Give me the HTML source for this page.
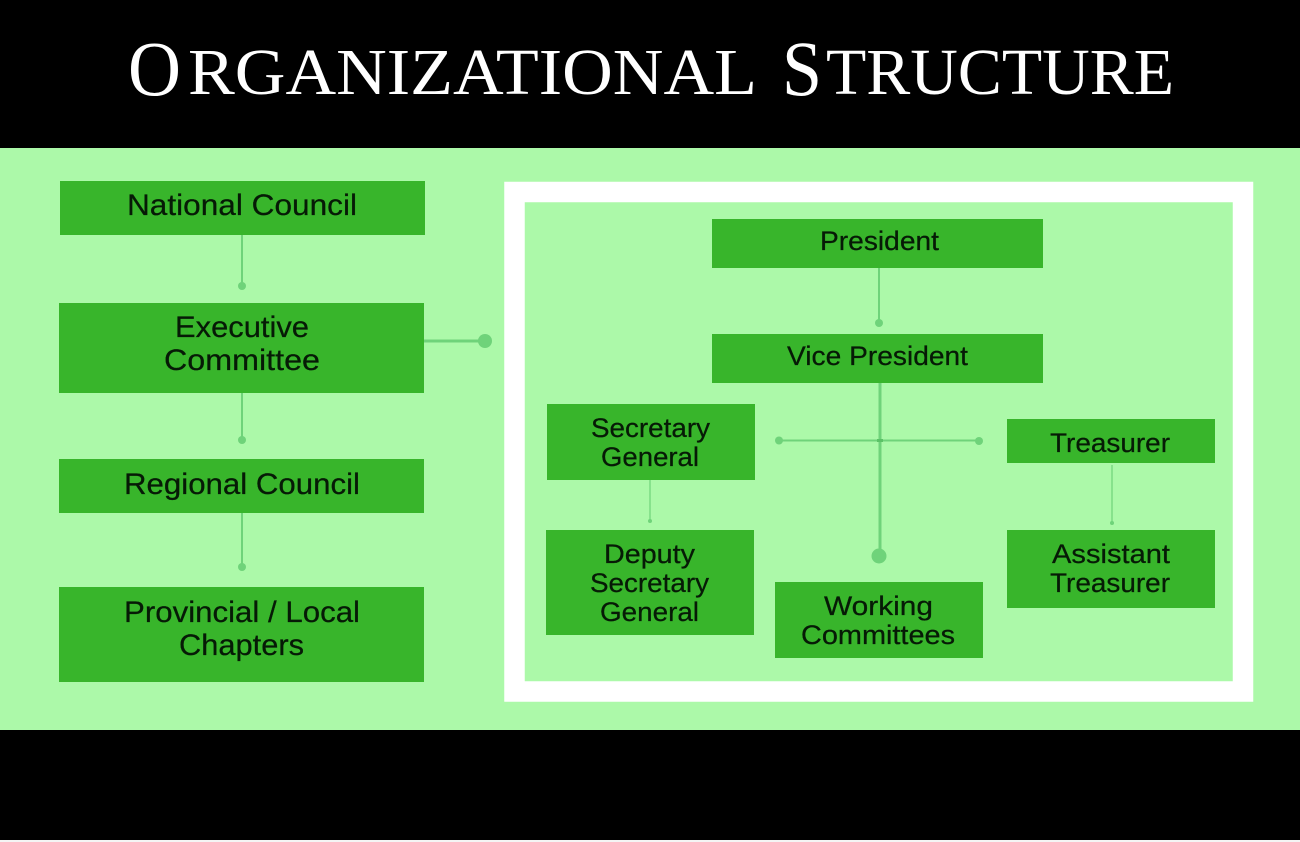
<!DOCTYPE html>
<html><head><meta charset="utf-8"><title>Organizational Structure</title>
<style>html,body{margin:0;padding:0;background:#fff}svg{display:block}
.t{font-family:"Liberation Sans",sans-serif;fill:#061a06;text-anchor:start;stroke:#061a06;stroke-width:.25}
.h{font-family:"Liberation Serif",serif;fill:#fff}
.b{fill:#38b52b}.c{stroke:#6fd37a;fill:none}.d{fill:#6fd37a}</style></head>
<body>
<svg width="1300" height="842" viewBox="0 0 1300 842" xmlns="http://www.w3.org/2000/svg">
<rect width="1300" height="842" fill="#000"/>
<rect y="840" width="1300" height="2" fill="#f4f4f4"/>
<rect y="148" width="1300" height="582" fill="#acf9a9"/>
<g class="h">
<text x="128" y="95" font-size="78" textLength="53" lengthAdjust="spacingAndGlyphs">O</text>
<text x="188" y="94" font-size="66" textLength="569" lengthAdjust="spacingAndGlyphs">RGANIZATIONAL</text>
<text x="782" y="95" font-size="78" textLength="40" lengthAdjust="spacingAndGlyphs">S</text>
<text x="826" y="94" font-size="66" textLength="348" lengthAdjust="spacingAndGlyphs">TRUCTURE</text>
</g>
<rect x="514.5" y="192" width="728.5" height="499.5" fill="none" stroke="#fff" stroke-width="20.5"/>
<rect class="b" x="60" y="181" width="365" height="54"/>
<rect class="b" x="59" y="303" width="365" height="90"/>
<rect class="b" x="59" y="459" width="365" height="54"/>
<rect class="b" x="59" y="587" width="365" height="95"/>
<rect class="b" x="712" y="219" width="331" height="49"/>
<rect class="b" x="712" y="334" width="331" height="49"/>
<rect class="b" x="547" y="404" width="208" height="76"/>
<rect class="b" x="546" y="530" width="208" height="105"/>
<rect class="b" x="775" y="582" width="208" height="76"/>
<rect class="b" x="1007" y="419" width="208" height="44"/>
<rect class="b" x="1007" y="530" width="208" height="78"/>
<path class="c" stroke-width="2" d="M242 235V286M242 393V440M242 513V567M879 268V323M779 440.5H979"/>
<path class="c" stroke-width="3" d="M424 341H485M880 383V556"/>
<path class="c" stroke-width="1.2" d="M650 480V521M1112 465V524"/>
<g class="d">
<circle cx="242" cy="286" r="4"/><circle cx="242" cy="440" r="4"/><circle cx="242" cy="567" r="4"/>
<circle cx="485" cy="341" r="7"/><circle cx="879" cy="323" r="4"/>
<circle cx="779" cy="440.5" r="4"/><circle cx="979" cy="441" r="4"/>
<circle cx="879" cy="556" r="7.5"/><circle cx="650" cy="521" r="2"/><circle cx="1112" cy="523" r="2"/>
</g>
<rect x="877" y="439" width="6" height="3" fill="#5cc267"/>
<g class="t" font-size="30">
<text x="127" y="215" textLength="230" lengthAdjust="spacingAndGlyphs">National Council</text>
<text x="175" y="337" textLength="134" lengthAdjust="spacingAndGlyphs">Executive</text>
<text x="164" y="370" textLength="156" lengthAdjust="spacingAndGlyphs">Committee</text>
<text x="124" y="494" textLength="236" lengthAdjust="spacingAndGlyphs">Regional Council</text>
<text x="124" y="622" textLength="236" lengthAdjust="spacingAndGlyphs">Provincial / Local</text>
<text x="179" y="655" textLength="125" lengthAdjust="spacingAndGlyphs">Chapters</text>
</g>
<g class="t" font-size="27">
<text x="820" y="250" textLength="119" lengthAdjust="spacingAndGlyphs">President</text>
<text x="787" y="365" textLength="181" lengthAdjust="spacingAndGlyphs">Vice President</text>
<text x="591" y="437" textLength="119" lengthAdjust="spacingAndGlyphs">Secretary</text>
<text x="601" y="466" textLength="98" lengthAdjust="spacingAndGlyphs">General</text>
<text x="1050" y="452" textLength="120" lengthAdjust="spacingAndGlyphs">Treasurer</text>
<text x="604" y="563" textLength="91" lengthAdjust="spacingAndGlyphs">Deputy</text>
<text x="590" y="592" textLength="119" lengthAdjust="spacingAndGlyphs">Secretary</text>
<text x="600" y="621" textLength="99" lengthAdjust="spacingAndGlyphs">General</text>
<text x="824" y="615" textLength="109" lengthAdjust="spacingAndGlyphs">Working</text>
<text x="801" y="644" textLength="154" lengthAdjust="spacingAndGlyphs">Committees</text>
<text x="1052" y="563" textLength="118" lengthAdjust="spacingAndGlyphs">Assistant</text>
<text x="1050" y="592" textLength="120" lengthAdjust="spacingAndGlyphs">Treasurer</text>
</g>
</svg>
</body></html>
